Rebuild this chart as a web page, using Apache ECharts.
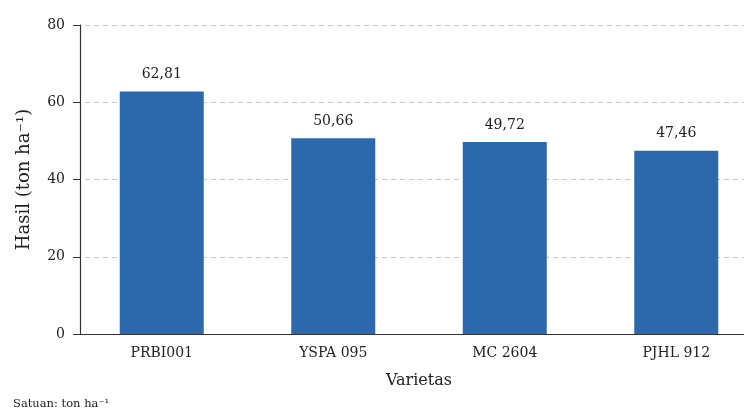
<!DOCTYPE html>
<html><head><meta charset="utf-8">
<script src="https://cdn.jsdelivr.net/npm/echarts@6/dist/echarts.min.js"></script>
<style>html,body{margin:0;padding:0;background:#fff}#c{width:744px;height:410px}</style>
</head><body><div id="c"></div>
<script>
const categories = ['PRBI001', 'YSPA 095', 'MC 2604', 'PJHL 912'];
const values = [62.81, 50.66, 49.72, 47.46];
const yTicks = [0, 20, 40, 60, 80];

const font = 'DejaVu Serif';
const chart = echarts.init(document.getElementById('c'));
chart.setOption({
  animation: false,
  grid: { left: 76, width: 686, top: 25, height: 309, outerBoundsMode: 'none', containLabel: false },
  xAxis: {
    type: 'category', data: categories,
    name: 'Varietas', nameLocation: 'middle', nameGap: 39,
    nameTextStyle: { fontFamily: font, fontSize: 16, color: '#222' },
    axisLine: { lineStyle: { color: '#333', width: 1.2 } },
    axisTick: { show: false },
    axisLabel: { fontFamily: font, fontSize: 14, color: '#222', margin: 12 }
  },
  yAxis: {
    type: 'value', min: yTicks[0], max: yTicks[yTicks.length - 1], interval: 20,
    offset: -4,
    name: 'Hasil (ton ha\u207B\u00B9)', nameLocation: 'middle', nameGap: 47,
    nameTextStyle: { fontFamily: font, fontSize: 18, color: '#222' },
    axisLine: { show: true, lineStyle: { color: '#333', width: 1.2 } },
    axisTick: { show: true, length: 7, lineStyle: { color: '#333' } },
    axisLabel: { fontFamily: font, fontSize: 14, color: '#222', margin: 15 },
    splitLine: { lineStyle: { color: '#c8c8c8', type: [5, 4] } }
  },
  series: [{
    type: 'bar', data: values, barWidth: 84,
    itemStyle: { color: '#2c68ac' },
    label: {
      show: true, position: 'top', distance: 10,
      fontFamily: font, fontSize: 14, color: '#222',
      formatter: p => p.value.toFixed(2).replace('.', ',')
    }
  }],
  graphic: [{
    type: 'text', left: 13, top: 398,
    style: { text: 'Satuan: ton ha\u207B\u00B9', font: '11.5px "DejaVu Serif"', fill: '#222' }
  }]
});
</script></body></html>
